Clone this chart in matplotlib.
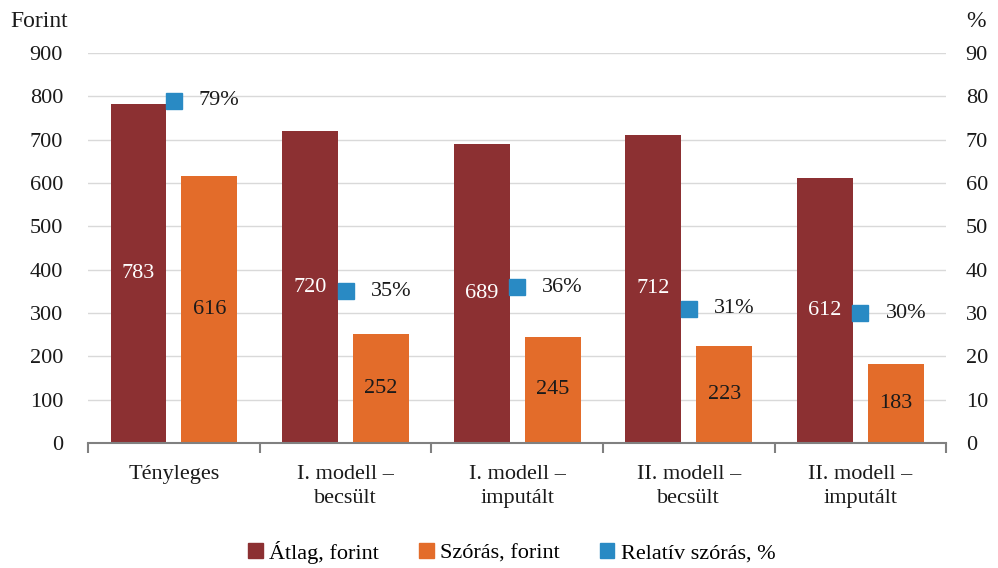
import numpy as np
import matplotlib.pyplot as plt
from matplotlib.patches import Patch

plt.rcParams['font.family'] = ['Liberation Serif', 'DejaVu Serif']
plt.rcParams['font.size'] = 16

categories = ['Tényleges', 'I. modell –\nbecsült', 'I. modell –\nimputált',
              'II. modell –\nbecsült', 'II. modell –\nimputált']
atlag = [783, 720, 689, 712, 612]
szoras = [616, 252, 245, 223, 183]
relativ = [79, 35, 36, 31, 30]

c_atlag = '#8C3032'
c_szoras = '#E36C2A'
c_rel = '#298AC4'
grey = '#808080'
txt = '#1a1a1a'

fig = plt.figure(figsize=(9.98, 5.68), dpi=100)
ax = fig.add_axes([0.0882, 0.220, 0.860, 0.6866])
ax2 = ax.twinx()

x = np.arange(len(categories))
w = 0.326
off = 0.206
b1 = ax.bar(x - off, atlag, w, color=c_atlag, zorder=2)
b2 = ax.bar(x + off, szoras, w, color=c_szoras, zorder=2)

# value labels in the middle of the bars
for rect, v in zip(b1, atlag):
    ax.text(rect.get_x() + rect.get_width() / 2, v / 2, str(v), ha='center', va='center',
            color='white', fontsize=16)
for rect, v in zip(b2, szoras):
    ax.text(rect.get_x() + rect.get_width() / 2, v / 2, str(v), ha='center', va='center',
            color=txt, fontsize=16)

ax.set_xlim(-0.5, len(categories) - 0.5)
ax.set_ylim(0, 900)
ax.set_yticks(range(0, 901, 100))
ax.yaxis.grid(True, color='#D9D9D9', linewidth=1, zorder=0)
ax.set_axisbelow(True)
for s in ['top', 'left', 'right']:
    ax.spines[s].set_visible(False)
ax.spines['bottom'].set_color(grey)
ax.spines['bottom'].set_linewidth(1.5)
ax.tick_params(axis='y', length=0, pad=18, labelsize=16, colors=txt)
ax.set_xticks(x)
ax.set_xticklabels(categories, fontsize=16, color=txt, linespacing=1.35, va='top')
ax.tick_params(axis='x', length=0, pad=16)
ax.set_xticks(np.arange(-0.5, len(categories), 1), minor=True)
ax.tick_params(axis='x', which='minor', length=7, width=1.5, color=grey)

ax2.set_ylim(0, 90)
ax2.set_yticks(range(0, 91, 10))
for s in ['top', 'left', 'right', 'bottom']:
    ax2.spines[s].set_visible(False)
ax2.tick_params(axis='y', length=0, pad=14, labelsize=16, colors=txt)
ax2.plot(x, relativ, linestyle='none', marker='s', markersize=12, color=c_rel, zorder=3)
for xi, v in zip(x, relativ):
    ax2.annotate(f'{v}%', (xi, v), xytext=(18, 0), textcoords='offset points',
                 ha='left', va='center', fontsize=16, color=txt)

fig.text(0.010, 0.962, 'Forint', fontsize=17, ha='left', va='center', color=txt)
fig.text(0.988, 0.962, '%', fontsize=17, ha='right', va='center', color=txt)

handles = [Patch(color=c_atlag), Patch(color=c_szoras), Patch(color=c_rel)]
labels = ['Átlag, forint', 'Szórás, forint', 'Relatív szórás, %']
fig.legend(handles, labels, loc='center', bbox_to_anchor=(0.513, 0.028), ncol=3,
           frameon=False, fontsize=16, handlelength=0.65, handleheight=0.65,
           handletextpad=0.3, columnspacing=1.8)

plt.savefig('out.png', dpi=100)
